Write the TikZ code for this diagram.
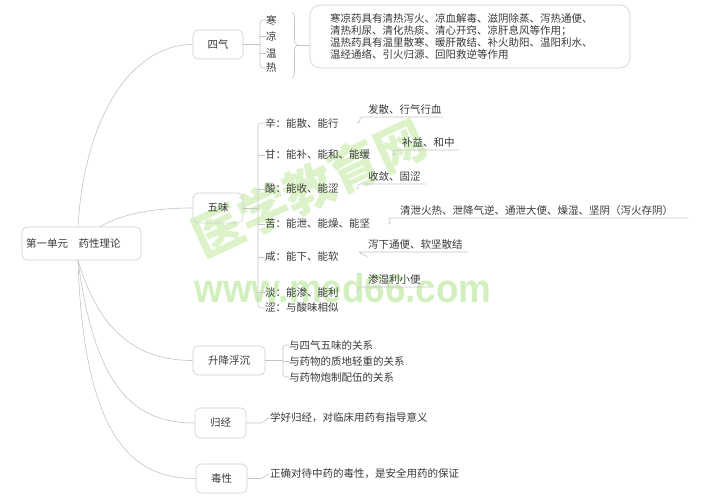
\documentclass[tikz,border=0pt]{standalone}
\usepackage{fontspec}
\setmainfont{Noto Sans CJK SC}
\newfontfamily\wmfont{Liberation Sans}
\usetikzlibrary{decorations.pathreplacing}
\definecolor{txt}{HTML}{3A3A3A}
\definecolor{ln}{HTML}{C4C4C4}
\definecolor{bx}{HTML}{CFCFCF}
\definecolor{wm}{RGB}{220,243,202}
\definecolor{wmb}{RGB}{210,240,190}
\begin{document}
\begin{tikzpicture}[x=1pt,y=-1pt,
  every node/.style={text=txt, font=\fontsize{10.5}{12}\selectfont},
  topic/.style={draw=bx, rounded corners=5pt, line width=0.6pt, minimum height=29pt, inner xsep=6pt},
  link/.style={draw=ln, line width=0.6pt},
  lbl/.style={inner sep=0pt, anchor=west},
  sub/.style={inner sep=0pt, anchor=south west},
]
\path[use as bounding box, fill=white] (0,0) rectangle (701,502);

% watermark
\node[text=wm, font=\fontsize{50}{50}\selectfont\bfseries, rotate=25] (wma) at (309,188) {医学教育网};
\node[text=wmb, font=\wmfont\bfseries\fontsize{40}{40}\selectfont, xscale=0.92, anchor=base, inner sep=0pt] (wmb) at (343,303) {www.med66.com};

% root and topics
\node[topic, text width=111pt, minimum height=33pt, inner xsep=4pt, align=left] (root) at (81.5,243.5) {第一单元　药性理论};
\node[topic, minimum width=50pt] (siqi) at (218,44.5) {四气};
\node[topic, minimum width=50pt, minimum height=30pt] (wuwei) at (218,208) {五味};
\node[topic, minimum width=72pt] (sjfc) at (229,360.5) {升降浮沉};
\node[topic, minimum width=51pt, minimum height=30pt] (guijing) at (220.5,423) {归经};
\node[topic, minimum width=51pt] (duxing) at (221.5,478.5) {毒性};

\coordinate (rtA) at ([xshift=-3.5pt]root.north);
\coordinate (rtB) at ([xshift=18.5pt]root.north);
\coordinate (rbA) at ([xshift=-3.5pt]root.south);

\draw[link] (rtA) .. controls (84,120) and (130,44.5) .. (siqi.west);
\draw[link] (rtB) .. controls (125,212) and (160,208) .. (wuwei.west);
\draw[link] (rbA) .. controls (100,335) and (140,360.5) .. (sjfc.west);
\draw[link] (rbA) .. controls (95,390) and (135,423) .. (guijing.west);
\draw[link] (rbA) .. controls (84,450) and (140,478.5) .. (duxing.west);

% 四气
\node[lbl] (h1) at (266,20) {寒};
\node[lbl] (h2) at (266,36) {凉};
\node[lbl] (h3) at (266,53) {温};
\node[lbl] (h4) at (266,68) {热};
\coordinate (qs) at (260,44.5);
\draw[link] (siqi.east) -- (qs);
\draw[link, rounded corners=3pt] (h1.west) -- (260,20) -- (260,68) -- (h4.west);
\draw[link] (260,36) -- (h2.west);
\draw[link] (260,53) -- (h3.west);
\draw[link, decorate, decoration={brace, amplitude=5pt}] (292,12) -- (292,78);
\node[draw=bx, rounded corners=10pt, line width=0.6pt, text width=280pt, inner xsep=20pt, minimum height=63pt, align=left, font=\fontsize{10.5}{11.7}\selectfont] (desc) at (470,36.5) {寒凉药具有清热泻火、凉血解毒、滋阴除蒸、泻热通便、\\清热利尿、清化热痰、清心开窍、凉肝息风等作用；\\温热药具有温里散寒、暖肝散结、补火助阳、温阳利水、\\温经通络、引火归源、回阳救逆等作用};
\coordinate (bt) at (297,45);
\draw[link] (bt) -- (bt -| desc.west);

% 五味
\node[lbl] (i1) at (265,123) {辛：能散、能行};
\node[lbl] (i2) at (265,155) {甘：能补、能和、能缓};
\node[lbl] (i3) at (265,189) {酸：能收、能涩};
\node[lbl] (i4) at (265,224) {苦：能泄、能燥、能坚};
\node[lbl] (i5) at (265,257) {咸：能下、能软};
\node[lbl] (i6) at (265,292) {淡：能渗、能利};
\node[lbl] (i7) at (265,308) {涩：与酸味相似};
\draw[link] (wuwei.east) -- (258,208);
\draw[link, rounded corners=3pt] (i1.west) -- (258,123) -- (258,308) -- (i7.west);
\draw[link] (258,155) -- (i2.west);
\draw[link] (258,189) -- (i3.west);
\draw[link] (258,224) -- (i4.west);
\draw[link] (258,257) -- (i5.west);
\draw[link] (258,292) -- (i6.west);

\node[sub] (s1) at (368,114.5) {发散、行气行血};
\node[sub] (s2) at (402,147.5) {补益、和中};
\node[sub] (s3) at (368,181.5) {收敛、固涩};
\node[sub] (s4) at (400,215.5) {清泄火热、泄降气逆、通泄大便、燥湿、坚阴（泻火存阴）};
\node[sub] (s5) at (368,249.5) {泻下通便、软坚散结};
\node[sub] (s6) at (368,284.5) {渗湿利小便};
\draw[link] ([xshift=18pt]i1.east) .. controls +(5,0) and +(-4,0) .. ([shift={(-6pt,-2.5pt)}]s1.south west) -- ([shift={(1pt,-2.5pt)}]s1.south east);
\draw[link] ([xshift=22pt]i2.east) .. controls +(5,0) and +(-4,0) .. ([shift={(-7pt,-2.5pt)}]s2.south west) -- ([shift={(4pt,-2.5pt)}]s2.south east);
\draw[link] ([xshift=17pt]i3.east) .. controls +(5,0) and +(-4,0) .. ([shift={(-8pt,-2.5pt)}]s3.south west) -- ([shift={(5pt,-2.5pt)}]s3.south east);
\draw[link] ([xshift=18pt]i4.east) .. controls +(5,0) and +(-4,0) .. ([shift={(-10pt,-2.5pt)}]s4.south west) -- ([shift={(15pt,-2.5pt)}]s4.south east);
\draw[link] ([xshift=27pt]i5.east) .. controls +(5,0) and +(-4,0) .. ([shift={(-8pt,-2.5pt)}]s5.south west) -- ([shift={(5pt,-2.5pt)}]s5.south east);
\draw[link] ([xshift=17pt]i6.east) .. controls +(5,0) and +(-4,0) .. ([shift={(-8pt,-2.5pt)}]s6.south west) -- ([shift={(8pt,-2.5pt)}]s6.south east);

% 升降浮沉
\node[lbl] (j1) at (289,345) {与四气五味的关系};
\node[lbl] (j2) at (289,361) {与药物的质地轻重的关系};
\node[lbl] (j3) at (289,377) {与药物炮制配伍的关系};
\draw[link] (sjfc.east) -- (283,360.5);
\draw[link, rounded corners=3pt] (j1.west) -- (283,345) -- (283,377) -- (j3.west);
\draw[link] (283,361) -- (j2.west);

% 归经、毒性
\node[lbl, inner xsep=1pt] (gt) at (269,418) {学好归经，对临床用药有指导意义};
\node[lbl, inner xsep=1pt] (dt) at (269,474) {正确对待中药的毒性，是安全用药的保证};
\draw[link] (guijing.east) -- +(14,0) .. controls +(4,0) and +(-3,0) .. (gt.west);
\draw[link] (duxing.east) -- +(13,0) .. controls +(4,0) and +(-3,0) .. (dt.west);
\end{tikzpicture}
\end{document}
